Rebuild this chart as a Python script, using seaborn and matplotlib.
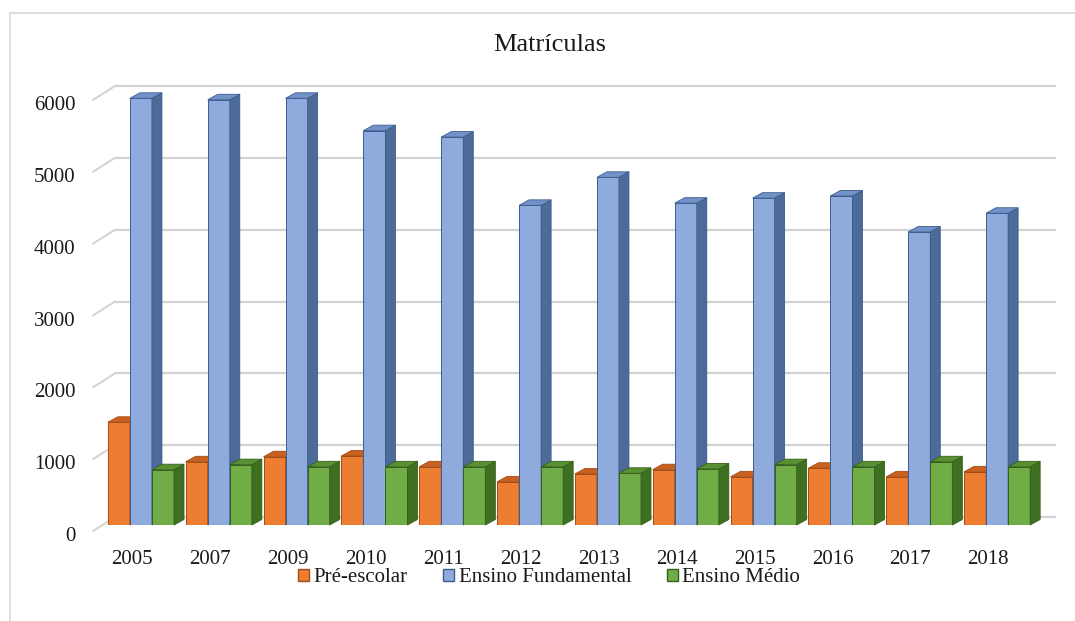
import matplotlib
matplotlib.use("Agg")
from matplotlib import pyplot as plt
from matplotlib.patches import Polygon, Patch
from matplotlib.lines import Line2D
from matplotlib.transforms import ScaledTranslation
import numpy as np
import pandas as pd
import seaborn as sns

# --------------------------------------------------------
# Data
# --------------------------------------------------------
anos = ["2005", "2007", "2009", "2010", "2011", "2012",
        "2013", "2014", "2015", "2016", "2017", "2018"]
pre_escolar = [1430, 880, 950, 960, 810, 600, 710, 770, 670, 790, 670, 740]
fundamental = [5940, 5920, 5940, 5490, 5400, 4450, 4840, 4480, 4550, 4580, 4080, 4340]
medio = [770, 840, 810, 810, 810, 810, 720, 780, 840, 810, 880, 810]
series = ["Pré-escolar", "Ensino Fundamental", "Ensino Médio"]
y_ticks = [0, 1000, 2000, 3000, 4000, 5000, 6000]

df = pd.DataFrame({
    "ano": anos * 3,
    "serie": np.repeat(series, len(anos)),
    "valor": pre_escolar + fundamental + medio,
})

faces = ["#ED7D31", "#8FAADC", "#70AD47"]
sides = ["#B5561B", "#4C6B98", "#3F6F21"]
tops = ["#C8601F", "#7192C9", "#579131"]
edges = ["#A34B14", "#3C5C8C", "#365F1C"]

# --------------------------------------------------------
# Figure / axes geometry (pixels)
# --------------------------------------------------------
W, H = 1075, 621
ax_left, ax_right = 102, 1036
ax_bottom, ax_top = 525, 94

sns.set_theme(style="white")
plt.rcParams["font.family"] = ["Liberation Serif", "DejaVu Serif"]

fig = plt.figure(figsize=(W / 100, H / 100), dpi=100)
ax = fig.add_axes([ax_left / W, (H - ax_bottom) / H,
                   (ax_right - ax_left) / W, (ax_bottom - ax_top) / H])

sns.barplot(data=df, x="ano", y="valor", hue="serie", palette=faces,
            width=0.85, saturation=1, legend=False, ax=ax)

ax.set_xlim(-0.5, len(anos) - 0.5)
ax.set_ylim(0, 6000)

px_x = (ax_right - ax_left) / len(anos)      # pixels per category
px_y = (ax_bottom - ax_top) / 6000            # pixels per unit

# --------------------------------------------------------
# Fake 3D: side and top faces of each bar
# --------------------------------------------------------
dx = 10 / px_x
dy = 5.5 / px_y
for i, cont in enumerate(ax.containers):
    z = 3 + i
    for bar in cont:
        x0 = bar.get_x()
        w = bar.get_width()
        h = bar.get_height()
        bar.set_edgecolor(edges[i])
        bar.set_linewidth(0.7)
        bar.set_zorder(z)
        side = Polygon([(x0 + w, 0), (x0 + w + dx, dy),
                        (x0 + w + dx, h + dy), (x0 + w, h)],
                       closed=True, facecolor=sides[i],
                       edgecolor=edges[i], linewidth=0.6,
                       zorder=z, clip_on=False)
        top = Polygon([(x0, h), (x0 + dx, h + dy),
                       (x0 + w + dx, h + dy), (x0 + w, h)],
                      closed=True, facecolor=tops[i],
                      edgecolor=edges[i], linewidth=0.6,
                      zorder=z, clip_on=False)
        ax.add_patch(side)
        ax.add_patch(top)

# --------------------------------------------------------
# Back wall gridlines + slanted ticks on the left wall
# --------------------------------------------------------
back_x = -0.5 + 13 / px_x
front_x = -0.5 - 9 / px_x
back_dy = 8 / px_y
front_dy = -6 / px_y
for v in y_ticks:
    ax.plot([back_x, 11.75], [v + back_dy, v + back_dy],
            color="#d2d2d2", lw=1.6, zorder=1, clip_on=False)
    ax.plot([front_x, back_x], [v + front_dy, v + back_dy],
            color="#d2d2d2", lw=1.4, zorder=1, clip_on=False)

# --------------------------------------------------------
# Axes styling
# --------------------------------------------------------
for s in ax.spines.values():
    s.set_visible(False)
ax.set_xlabel("")
ax.set_ylabel("")
ax.set_yticks(y_ticks)
ax.set_yticklabels([str(v) for v in y_ticks])
ax.tick_params(axis="y", length=0, pad=19, labelsize=15, colors="#1a1a1a")
ax.tick_params(axis="x", length=0, pad=18, labelsize=15, colors="#1a1a1a")

off_y = ScaledTranslation(0, -9 / 100, fig.dpi_scale_trans)
for lab in ax.get_yticklabels():
    lab.set_transform(lab.get_transform() + off_y)
off_x = ScaledTranslation(-9 / 100, 0, fig.dpi_scale_trans)
for lab in ax.get_xticklabels():
    lab.set_transform(lab.get_transform() + off_x)

fig.text(550 / W, 1 - 45 / H, "Matrículas", ha="center", va="center",
         fontsize=19, color="#1a1a1a")

handles = [Patch(facecolor=faces[i], edgecolor=edges[i], label=series[i])
           for i in range(3)]
fig.legend(handles=handles, loc="center", bbox_to_anchor=(549 / W, 1 - 578 / H),
           ncol=3, frameon=False, fontsize=15, handlelength=0.55,
           handleheight=0.55, handletextpad=0.2, columnspacing=1.7,
           labelcolor="#1a1a1a")

# light outer frame
fig.add_artist(Line2D([10 / W, 10 / W], [0, 1 - 13 / H],
                      transform=fig.transFigure, color="#d9d9d9", lw=1.2))
fig.add_artist(Line2D([10 / W, 1], [1 - 13 / H, 1 - 13 / H],
                      transform=fig.transFigure, color="#d9d9d9", lw=1.2))

fig.savefig("out.png", dpi=100, facecolor="white")
